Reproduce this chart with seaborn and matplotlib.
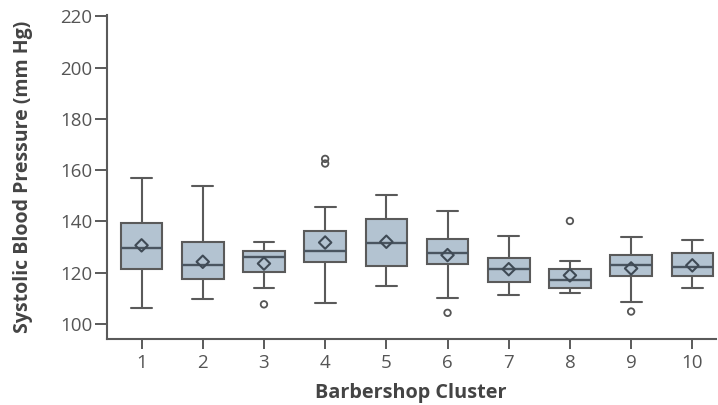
import numpy as np
import pandas as pd
import seaborn as sns
import matplotlib
matplotlib.use("Agg")
import matplotlib.pyplot as plt

clusters = ["1", "2", "3", "4", "5", "6", "7", "8", "9", "10"]
whisker_low = [106.4, 109.9, 113.9, 108.1, 114.7, 110.3, 111.3, 112.0, 108.6, 113.9]
q1 = [121.3, 117.4, 120.3, 124.3, 122.5, 123.6, 116.4, 114.2, 118.6, 118.6]
median = [129.5, 122.9, 126.2, 128.6, 131.7, 127.9, 121.4, 117.1, 122.9, 122.1]
q3 = [139.5, 132.1, 128.6, 136.4, 140.8, 133.0, 125.6, 121.3, 127.1, 127.7]
whisker_high = [156.8, 153.9, 132.1, 145.6, 150.5, 143.9, 134.2, 124.7, 133.8, 132.6]
means = [130.7, 124.3, 123.6, 131.8, 132.1, 126.9, 121.4, 119.0, 121.7, 122.9]
outlier_cluster = ["3", "4", "4", "6", "8", "9"]
outlier_value = [107.7, 164.4, 162.6, 104.4, 140.2, 104.9]
yticks = [100, 120, 140, 160, 180, 200, 220]

rows = []
for c, a, b, m, d, e in zip(clusters, whisker_low, q1, median, q3, whisker_high):
    for v in (a, b, m, d, e):
        rows.append({"cluster": c, "sbp": v})
df = pd.DataFrame(rows)
df_mean = pd.DataFrame({"cluster": clusters, "sbp": means})
df_out = pd.DataFrame({"cluster": outlier_cluster, "sbp": outlier_value})

sns.set_style("ticks")
plt.rcParams["font.family"] = ["Open Sans", "DejaVu Sans"]

edge = "#5a5a5a"
fig = plt.figure(figsize=(7.18, 4.05), dpi=100)
ax = fig.add_axes([0.1486, 0.163, 0.848, 0.8])

sns.boxplot(data=df, x="cluster", y="sbp", order=clusters, whis=(0, 100),
            showfliers=False, width=0.68, color="#b3c3d1", linewidth=1.5,
            linecolor=edge, ax=ax,
            boxprops=dict(facecolor="#b3c3d1", edgecolor=edge),
            medianprops=dict(color="#4a5560", linewidth=1.7),
            capprops=dict(color=edge), whiskerprops=dict(color=edge))

sns.scatterplot(data=df_mean, x="cluster", y="sbp", marker="D", s=40,
                facecolor="none", edgecolor="#3f4a55", linewidth=1.5, ax=ax, zorder=5)
sns.scatterplot(data=df_out, x="cluster", y="sbp", marker="o", s=22,
                facecolor="none", edgecolor="#555555", linewidth=1.3, ax=ax, zorder=5)

ax.set_xlim(-0.57, 9.38)
ax.set_ylim(94.2, 220.5)
ax.set_yticks(yticks)
ax.set_yticklabels([str(t) for t in yticks])
ax.spines["top"].set_visible(False)
ax.spines["right"].set_visible(False)
for s in ("left", "bottom"):
    ax.spines[s].set_color(edge)
    ax.spines[s].set_linewidth(1.5)
ax.tick_params(axis="y", length=8.5, pad=2)
ax.tick_params(axis="x", length=7, pad=4)
ax.tick_params(axis="both", colors=edge, labelcolor="#555555", labelsize=13.5,
               width=1.4)
ax.set_xlabel("Barbershop Cluster", fontsize=14.3, fontweight="bold",
              color="#444444", labelpad=8)
ax.set_ylabel("Systolic Blood Pressure (mm Hg)", fontsize=14, fontweight="bold",
              color="#444444", labelpad=19)

fig.savefig("out.png", dpi=100)
